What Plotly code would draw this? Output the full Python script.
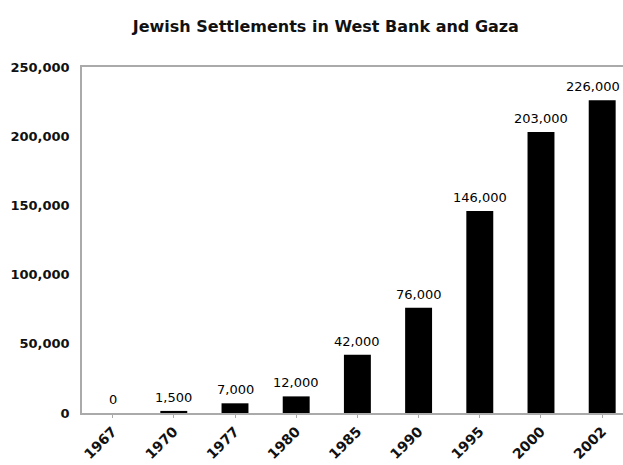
import plotly.graph_objects as go

years = ["1967", "1970", "1977", "1980", "1985", "1990", "1995", "2000", "2002"]
settlers = [0, 1500, 7000, 12000, 42000, 76000, 146000, 203000, 226000]
y_ticks = [0, 50000, 100000, 150000, 200000, 250000]
y_tick_text = ["0", "50,000", "100,000", "150,000", "200,000", "250,000"]

FONT = "DejaVu Sans, Verdana, sans-serif"

x_pos = list(range(len(years)))

fig = go.Figure(
    go.Bar(
        x=x_pos,
        y=settlers,
        width=0.44,
        marker=dict(color="#000000", line=dict(width=0)),
        hoverinfo="x+y",
    )
)

# value labels above each bar; the last one is nudged left to stay inside the page
for i, v in enumerate(settlers):
    fig.add_annotation(
        x=x_pos[i],
        y=v,
        text=f"{v:,}",
        showarrow=False,
        xanchor="center",
        yanchor="bottom",
        yshift=4,
        xshift=-9 if i == len(settlers) - 1 else 0,
        font=dict(family=FONT, size=13, color="#000000"),
    )

fig.update_layout(
    width=623,
    height=465,
    margin=dict(l=82, r=0, t=67, b=52),
    paper_bgcolor="white",
    plot_bgcolor="white",
    showlegend=False,
    title=dict(
        text="<b>Jewish Settlements in West Bank and Gaza</b>",
        x=0.523,
        xanchor="center",
        y=1 - 26 / 465,
        yanchor="middle",
        font=dict(family=FONT, size=16, color="#111111"),
    ),
    xaxis=dict(
        range=[-0.5, 8.34],
        tickmode="array",
        tickvals=x_pos,
        ticktext=years,
        tickangle=-45,
        tickson="boundaries",
        ticks="outside",
        ticklen=3,
        tickcolor="#aaaaaa",
        showline=True,
        linecolor="#aaaaaa",
        linewidth=1.5,
        mirror=True,
        showgrid=False,
        zeroline=False,
        ticklabelstandoff=0,
        tickfont=dict(family=FONT, size=14, color="#111111", weight="bold"),
    ),
    yaxis=dict(
        range=[0, 250000],
        tickmode="array",
        tickvals=y_ticks,
        ticktext=y_tick_text,
        showline=True,
        linecolor="#aaaaaa",
        linewidth=1.5,
        showgrid=False,
        zeroline=False,
        ticks="",
        ticklabelstandoff=8,
        tickfont=dict(family=FONT, size=13, color="#111111", weight="bold"),
    ),
)

fig.write_html("out.html")
